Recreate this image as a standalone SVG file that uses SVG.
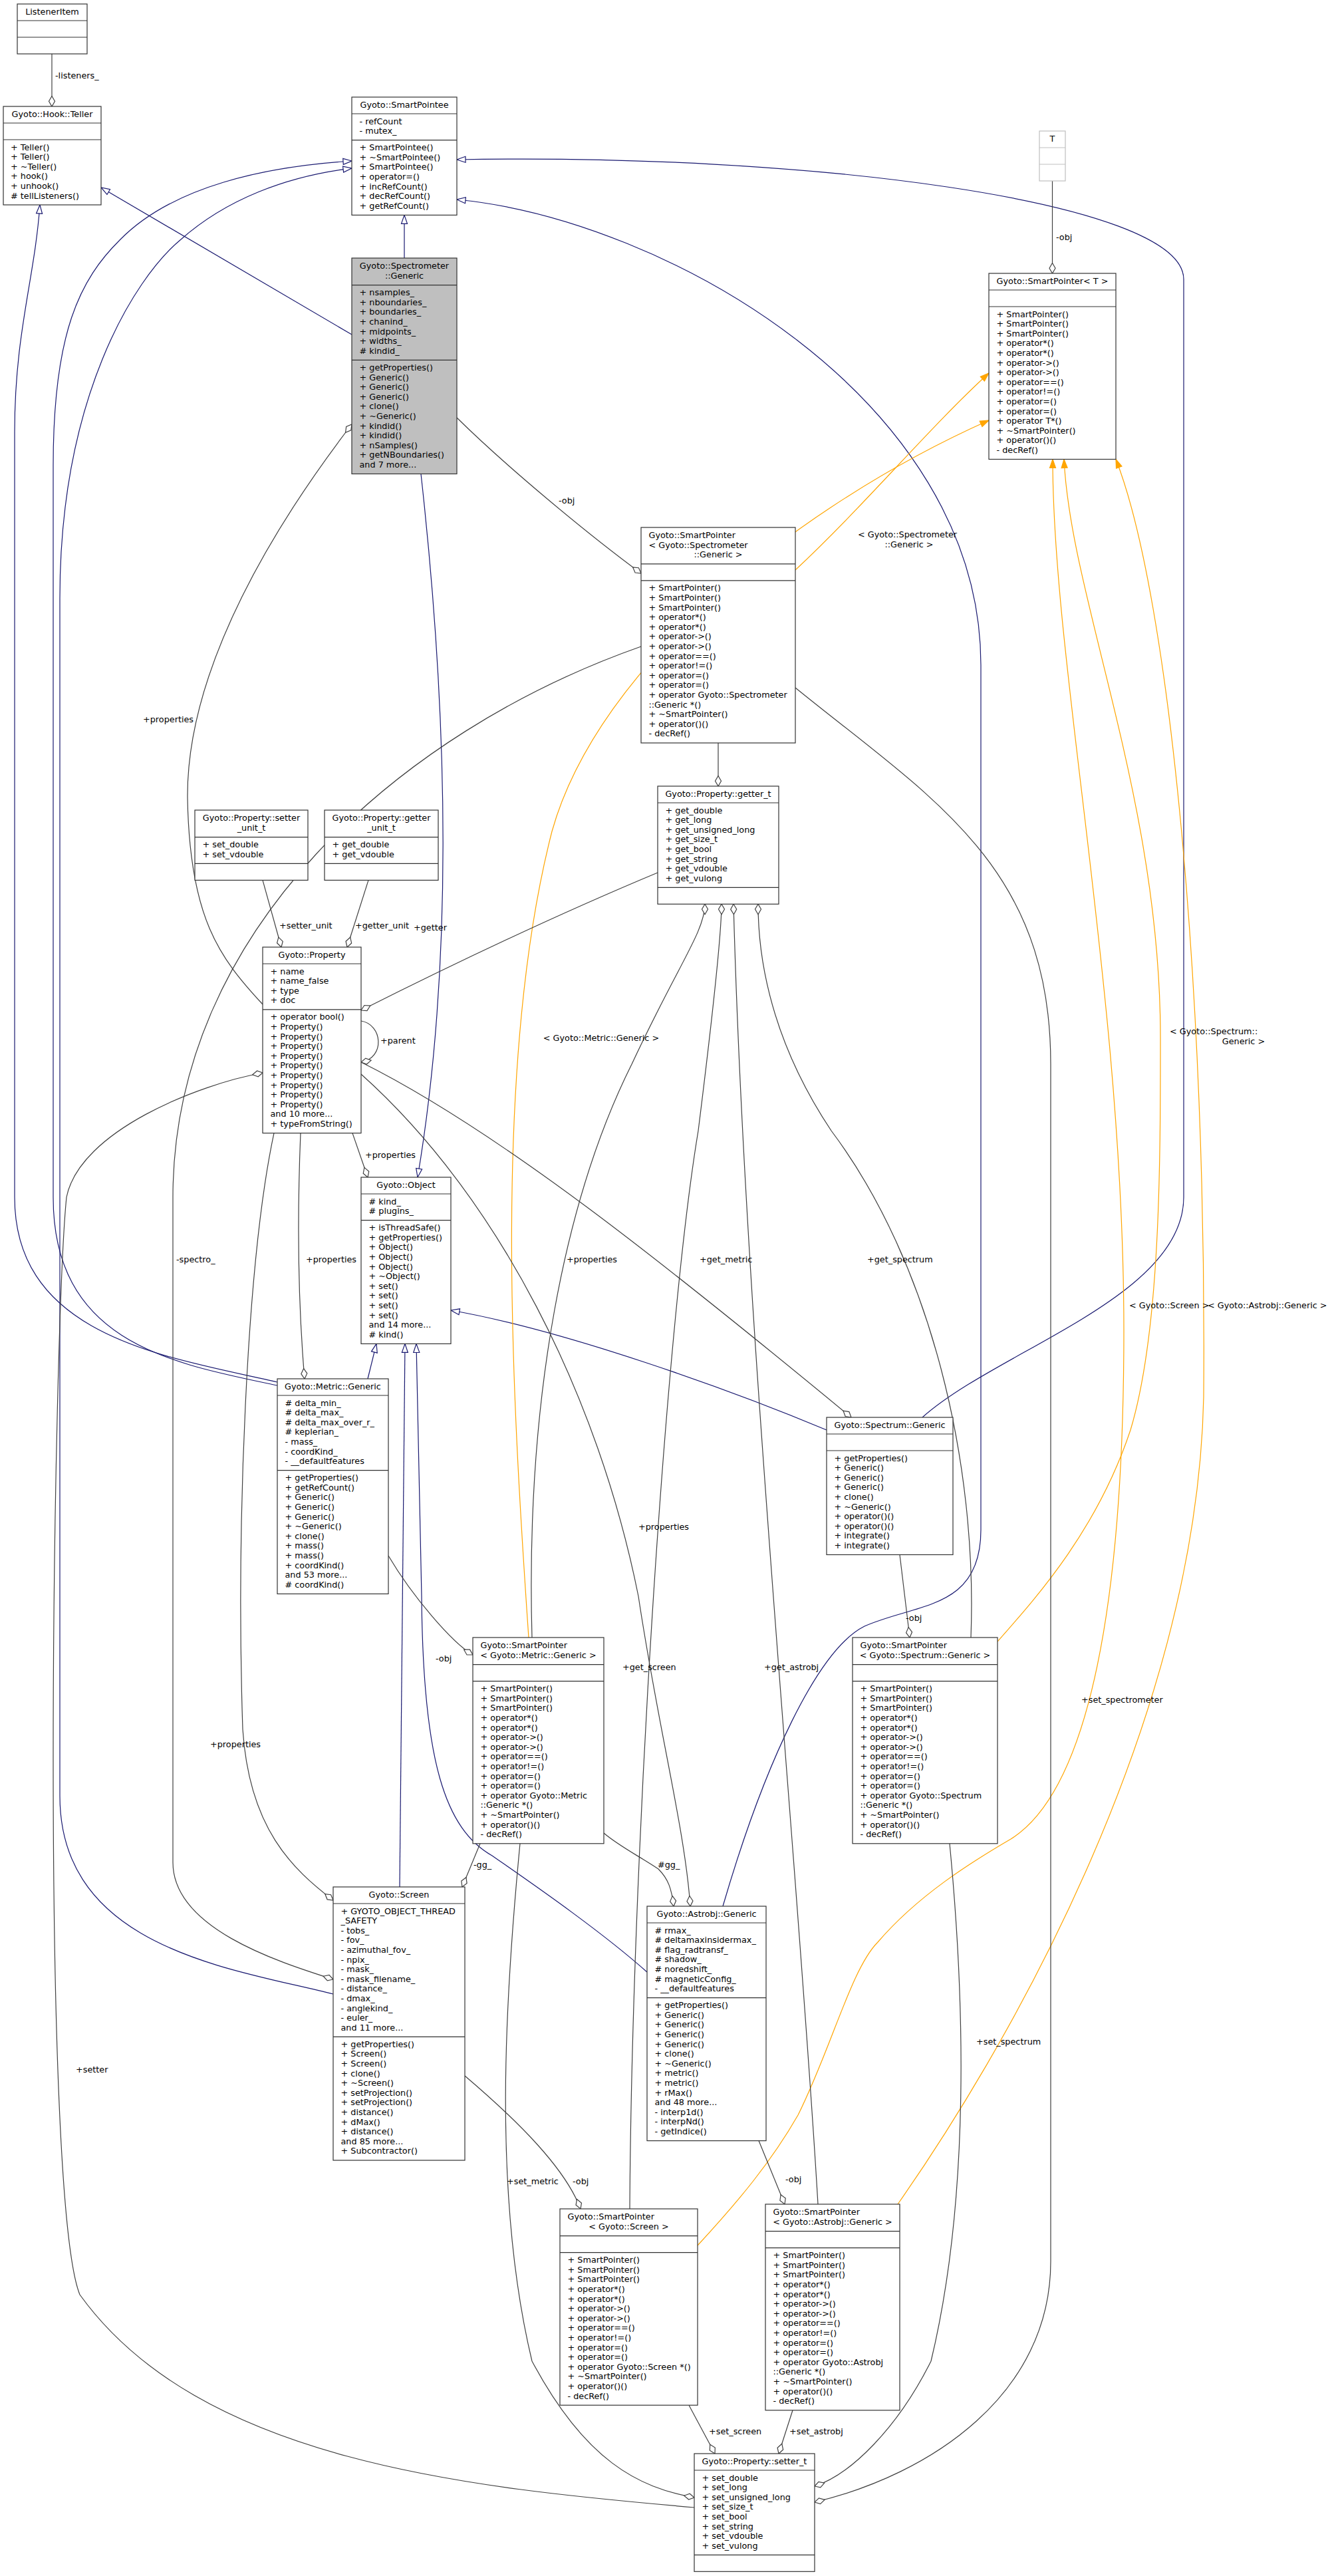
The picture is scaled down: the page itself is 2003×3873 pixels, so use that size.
<svg xmlns="http://www.w3.org/2000/svg" width="2003" height="3873" viewBox="0 0 2003 3873">
<style>
text{font-family:"DejaVu Sans","Liberation Sans",sans-serif;font-size:12.8px;fill:#000}
.c{text-anchor:middle}
.b{fill:#fff;stroke:#333;stroke-width:1.2}
.g{fill:#bfbfbf;stroke:#333;stroke-width:1.2}
.u{fill:#fff;stroke:#bfbfbf;stroke-width:1.2}
.s{stroke:#333;stroke-width:1.2}
.su{stroke:#bfbfbf;stroke-width:1.2}
.inh{fill:none;stroke:#191970;stroke-width:1.2;marker-end:url(#mInh)}
.agg{fill:none;stroke:#404040;stroke-width:1.2;marker-end:url(#mDia)}
.tpl{fill:none;stroke:#ffa500;stroke-width:1.2;marker-end:url(#mTpl)}
</style>
<defs>
<marker id="mInh" markerWidth="16" markerHeight="12" refX="14" refY="6" orient="auto" markerUnits="userSpaceOnUse"><path d="M1,1.5 L14,6 L1,10.5 Z" fill="#fff" stroke="#191970" stroke-width="1.2"/></marker>
<marker id="mTpl" markerWidth="16" markerHeight="12" refX="14" refY="6" orient="auto" markerUnits="userSpaceOnUse"><path d="M1,1.5 L14,6 L1,10.5 Z" fill="#ffa500" stroke="#ffa500" stroke-width="1.2"/></marker>
<marker id="mDia" markerWidth="18" markerHeight="12" refX="16.5" refY="6" orient="auto" markerUnits="userSpaceOnUse"><path d="M1,6 L8.75,1.5 L16.5,6 L8.75,10.5 Z" fill="#fff" stroke="#404040" stroke-width="1.2"/></marker>
</defs>

<g id="edges">
<path class="inh" d="M608,388 L608,323.4"/>
<path class="inh" d="M529,503 L152,282"/>
<path class="inh" d="M633,712.5 C665,1000 690,1400 628,1770"/>
<path class="inh" d="M553,2073 L566,2020.4"/>
<path class="inh" d="M417,2078 C250,2040 22,2010 22,1800 L22,650 C22,500 52,420 60,308"/>
<path class="inh" d="M417,2083 C260,2050 80,2020 80,1800 L80,700 C80,500 120,420 181,360 C260,280 400,250 529,242"/>
<path class="inh" d="M501,2998 C350,2960 90,2930 90,2700 L90,900 C90,600 200,420 272,360 C340,300 430,265 529,253"/>
<path class="inh" d="M601,2837 L609,2020.4"/>
<path class="inh" d="M1387,2131 C1500,2030 1780,1950 1780,1800 L1780,420 C1780,300 1200,230 687,240"/>
<path class="inh" d="M1243,2150 C1100,2090 850,2000 678,1970"/>
<path class="inh" d="M1087,2866 C1150,2650 1230,2480 1300,2445 C1380,2410 1475,2420 1475,2300 L1475,1000 C1475,600 1000,330 687,300"/>
<path class="inh" d="M973,2965 C900,2900 790,2825 740,2790 C670,2750 636,2650 634,2400 L626,2020.4"/>

<path class="tpl" d="M1196,857 C1300,760 1400,640 1487,561"/>
<path class="tpl" d="M795,2462 C770,2100 740,1600 830,1250 C900,1000 1200,760 1487,632"/>
<path class="tpl" d="M1500,2468 C1560,2400 1650,2300 1700,2150 C1745,2000 1745,1750 1745,1560 C1745,1200 1610,900 1600,690.5"/>
<path class="tpl" d="M1049,3376 C1110,3310 1160,3250 1200,3180 C1250,3080 1280,2960 1320,2920 C1380,2850 1460,2800 1520,2765 C1640,2690 1690,2400 1690,2000 C1690,1500 1583,1000 1583,690.5"/>
<path class="tpl" d="M1350,3314 C1500,3100 1800,2600 1810,2100 C1815,1500 1760,900 1678,690.5"/>

<path class="agg" d="M78,81 L78,160"/>
<path class="agg" d="M1582.5,272 L1582.5,411"/>
<path class="agg" d="M687,628 C760,700 880,800 964,862"/>
<path class="agg" d="M395,1510 C330,1440 285,1380 282,1200 C280,1000 420,780 529,638"/>
<path class="agg" d="M543,1535 C575,1540 580,1590 543,1597"/>
<path class="agg" d="M395,1323.4 L423,1424"/>
<path class="agg" d="M554,1323.4 L522,1424"/>
<path class="agg" d="M989,1312 C850,1370 700,1440 543,1519"/>
<path class="agg" d="M530,1703.6 L553,1770"/>
<path class="agg" d="M452,1703.6 C446,1850 450,1980 458,2073"/>
<path class="agg" d="M412,1703.6 C370,1900 355,2300 365,2600 C375,2750 440,2810 501,2857"/>
<path class="agg" d="M543,1597 C750,1700 1000,1900 1280,2131"/>
<path class="agg" d="M543,1615 C750,1800 900,2100 960,2400 C990,2600 1030,2750 1038,2866"/>
<path class="agg" d="M1080,1117 L1080,1182"/>
<path class="agg" d="M1196,1034 C1400,1200 1580,1300 1580,1600 L1580,3400 C1580,3600 1400,3720 1225,3762"/>
<path class="agg" d="M964,972 C600,1100 260,1400 260,1800 L260,2800 C260,2900 420,2950 501,2976"/>
<path class="agg" d="M584,2339 C620,2400 680,2470 711,2488"/>
<path class="agg" d="M1353,2337.5 L1368,2462"/>
<path class="agg" d="M699,3121 C780,3190 850,3260 873,3321"/>
<path class="agg" d="M1141,3218.6 L1180,3314"/>
<path class="agg" d="M800,2462 C790,2100 850,1800 950,1600 C1020,1450 1060,1400 1060,1359.3"/>
<path class="agg" d="M1460,2462 C1470,2200 1400,1900 1250,1700 C1150,1550 1140,1420 1140,1359.3"/>
<path class="agg" d="M947,3321 C950,2800 1000,2000 1050,1700 C1075,1500 1085,1400 1085,1359.3"/>
<path class="agg" d="M1230,3314 C1200,2800 1120,2000 1103,1359.3"/>
<path class="agg" d="M782,2771.8 C760,3000 740,3300 800,3550 C880,3700 960,3740 1044,3755"/>
<path class="agg" d="M1428,2771.8 C1450,3000 1460,3300 1400,3550 C1350,3650 1280,3720 1225,3738"/>
<path class="agg" d="M1036,3616.2 L1075,3689"/>
<path class="agg" d="M1192,3623.8 L1171,3689"/>
<path class="agg" d="M1044,3770 C700,3740 300,3700 120,3450 C60,3300 80,2000 100,1800 C120,1700 300,1630 395,1613"/>
<path class="agg" d="M722,2771.8 L695,2837"/>
<path class="agg" d="M908,2756 C930,2775 960,2790 990,2810 C1005,2825 1010,2840 1013,2866"/>

<text x="83" y="117.5">-listeners_</text>
<text x="1588" y="361">-obj</text>
<text x="840" y="757">-obj</text>
<text x="1290" y="808">&lt; Gyoto::Spectrometer</text>
<text class="c" x="1367" y="822.6">::Generic &gt;</text>
<text x="215" y="1086">+properties</text>
<text x="420" y="1396">+setter_unit</text>
<text x="534" y="1396">+getter_unit</text>
<text x="622" y="1399">+getter</text>
<text x="572" y="1569">+parent</text>
<text class="c" x="904" y="1565">&lt; Gyoto::Metric::Generic &gt;</text>
<text x="1759" y="1555">&lt; Gyoto::Spectrum::</text>
<text class="c" x="1870" y="1570">Generic &gt;</text>
<text x="549" y="1741">+properties</text>
<text x="265" y="1898">-spectro_</text>
<text x="460" y="1898">+properties</text>
<text x="852" y="1898">+properties</text>
<text x="1052" y="1898">+get_metric</text>
<text x="1304" y="1898">+get_spectrum</text>
<text x="1698" y="1967">&lt; Gyoto::Screen &gt;</text>
<text x="1816" y="1967">&lt; Gyoto::Astrobj::Generic &gt;</text>
<text x="1362" y="2437">-obj</text>
<text x="655" y="2498">-obj</text>
<text x="316" y="2627">+properties</text>
<text x="960" y="2300">+properties</text>
<text x="936" y="2511">+get_screen</text>
<text x="1149" y="2511">+get_astrobj</text>
<text x="1626" y="2560">+set_spectrometer</text>
<text x="712" y="2808">-gg_</text>
<text x="989" y="2808">#gg_</text>
<text x="114" y="3116">+setter</text>
<text x="1468" y="3074">+set_spectrum</text>
<text x="762" y="3284">+set_metric</text>
<text x="861" y="3284">-obj</text>
<text x="1181" y="3281">-obj</text>
<text x="1066" y="3660">+set_screen</text>
<text x="1187" y="3660">+set_astrobj</text>
</g>

<g id="ListenerItem">
<rect class="b" x="26" y="6" width="105" height="75"/>
<path class="s" d="M26,31 H131 M26,56 H131"/>
<text class="c" x="78.5" y="22">ListenerItem</text>
</g>

<g id="Teller">
<rect class="b" x="5" y="160" width="147" height="148"/>
<path class="s" d="M5,185 H152 M5,210 H152"/>
<text class="c" x="78.5" y="176">Gyoto::Hook::Teller</text>
<text x="16" y="225.5"><tspan x="16">+ Teller()</tspan><tspan x="16" dy="14.6">+ Teller()</tspan><tspan x="16" dy="14.6">+ ~Teller()</tspan><tspan x="16" dy="14.6">+ hook()</tspan><tspan x="16" dy="14.6">+ unhook()</tspan><tspan x="16" dy="14.6"># tellListeners()</tspan></text>
</g>

<g id="SmartPointee">
<rect class="b" x="529" y="146" width="158" height="177.4"/>
<path class="s" d="M529,171 H687 M529,210.7 H687"/>
<text class="c" x="608" y="162">Gyoto::SmartPointee</text>
<text x="540.5" y="186.5"><tspan x="540.5">- refCount</tspan><tspan x="540.5" dy="14.6">- mutex_</tspan></text>
<text x="540.5" y="226.2"><tspan x="540.5">+ SmartPointee()</tspan><tspan x="540.5" dy="14.6">+ ~SmartPointee()</tspan><tspan x="540.5" dy="14.6">+ SmartPointee()</tspan><tspan x="540.5" dy="14.6">+ operator=()</tspan><tspan x="540.5" dy="14.6">+ incRefCount()</tspan><tspan x="540.5" dy="14.6">+ decRefCount()</tspan><tspan x="540.5" dy="14.6">+ getRefCount()</tspan></text>
</g>

<g id="SpectrometerGeneric">
<rect class="g" x="529" y="388" width="158" height="324.5"/>
<path class="s" d="M529,428.7 H687 M529,541.4 H687"/>
<text class="c" x="608" y="404">Gyoto::Spectrometer</text>
<text class="c" x="608" y="418.6">::Generic</text>
<text x="540.5" y="444.2"><tspan x="540.5">+ nsamples_</tspan><tspan x="540.5" dy="14.6">+ nboundaries_</tspan><tspan x="540.5" dy="14.6">+ boundaries_</tspan><tspan x="540.5" dy="14.6">+ chanind_</tspan><tspan x="540.5" dy="14.6">+ midpoints_</tspan><tspan x="540.5" dy="14.6">+ widths_</tspan><tspan x="540.5" dy="14.6"># kindid_</tspan></text>
<text x="540.5" y="556.9"><tspan x="540.5">+ getProperties()</tspan><tspan x="540.5" dy="14.6">+ Generic()</tspan><tspan x="540.5" dy="14.6">+ Generic()</tspan><tspan x="540.5" dy="14.6">+ Generic()</tspan><tspan x="540.5" dy="14.6">+ clone()</tspan><tspan x="540.5" dy="14.6">+ ~Generic()</tspan><tspan x="540.5" dy="14.6">+ kindid()</tspan><tspan x="540.5" dy="14.6">+ kindid()</tspan><tspan x="540.5" dy="14.6">+ nSamples()</tspan><tspan x="540.5" dy="14.6">+ getNBoundaries()</tspan><tspan x="540.5" dy="14.6">and 7 more...</tspan></text>
</g>

<g id="T">
<rect class="u" x="1563" y="197" width="39" height="75"/>
<path class="su" d="M1563,222 H1602 M1563,247 H1602"/>
<text class="c" x="1582.5" y="213">T</text>
</g>

<g id="SmartPointerT">
<rect class="b" x="1487" y="411" width="191" height="279.5"/>
<path class="s" d="M1487,436 H1678 M1487,461 H1678"/>
<text class="c" x="1582.5" y="427">Gyoto::SmartPointer&lt; T &gt;</text>
<text x="1498.5" y="476.5"><tspan x="1498.5">+ SmartPointer()</tspan><tspan x="1498.5" dy="14.6">+ SmartPointer()</tspan><tspan x="1498.5" dy="14.6">+ SmartPointer()</tspan><tspan x="1498.5" dy="14.6">+ operator*()</tspan><tspan x="1498.5" dy="14.6">+ operator*()</tspan><tspan x="1498.5" dy="14.6">+ operator-&gt;()</tspan><tspan x="1498.5" dy="14.6">+ operator-&gt;()</tspan><tspan x="1498.5" dy="14.6">+ operator==()</tspan><tspan x="1498.5" dy="14.6">+ operator!=()</tspan><tspan x="1498.5" dy="14.6">+ operator=()</tspan><tspan x="1498.5" dy="14.6">+ operator=()</tspan><tspan x="1498.5" dy="14.6">+ operator T*()</tspan><tspan x="1498.5" dy="14.6">+ ~SmartPointer()</tspan><tspan x="1498.5" dy="14.6">+ operator()()</tspan><tspan x="1498.5" dy="14.6">- decRef()</tspan></text>
</g>

<g id="SmartPointerSpectrometer">
<rect class="b" x="964" y="793" width="232" height="324"/>
<path class="s" d="M964,847.8 H1196 M964,872.8 H1196"/>
<text x="975.5" y="809">Gyoto::SmartPointer</text>
<text x="975.5" y="823.6">&lt; Gyoto::Spectrometer</text>
<text class="c" x="1080" y="838.2">::Generic &gt;</text>
<text x="975.5" y="888.3"><tspan x="975.5">+ SmartPointer()</tspan><tspan x="975.5" dy="14.6">+ SmartPointer()</tspan><tspan x="975.5" dy="14.6">+ SmartPointer()</tspan><tspan x="975.5" dy="14.6">+ operator*()</tspan><tspan x="975.5" dy="14.6">+ operator*()</tspan><tspan x="975.5" dy="14.6">+ operator-&gt;()</tspan><tspan x="975.5" dy="14.6">+ operator-&gt;()</tspan><tspan x="975.5" dy="14.6">+ operator==()</tspan><tspan x="975.5" dy="14.6">+ operator!=()</tspan><tspan x="975.5" dy="14.6">+ operator=()</tspan><tspan x="975.5" dy="14.6">+ operator=()</tspan><tspan x="975.5" dy="14.6">+ operator Gyoto::Spectrometer</tspan><tspan x="975.5" dy="14.6">::Generic *()</tspan><tspan x="975.5" dy="14.6">+ ~SmartPointer()</tspan><tspan x="975.5" dy="14.6">+ operator()()</tspan><tspan x="975.5" dy="14.6">- decRef()</tspan></text>
</g>

<g id="getter_t">
<rect class="b" x="989" y="1182" width="182" height="177.3"/>
<path class="s" d="M989,1207 H1171 M989,1334.3 H1171"/>
<text class="c" x="1080" y="1198">Gyoto::Property::getter_t</text>
<text x="1000.5" y="1222.5"><tspan x="1000.5">+ get_double</tspan><tspan x="1000.5" dy="14.6">+ get_long</tspan><tspan x="1000.5" dy="14.6">+ get_unsigned_long</tspan><tspan x="1000.5" dy="14.6">+ get_size_t</tspan><tspan x="1000.5" dy="14.6">+ get_bool</tspan><tspan x="1000.5" dy="14.6">+ get_string</tspan><tspan x="1000.5" dy="14.6">+ get_vdouble</tspan><tspan x="1000.5" dy="14.6">+ get_vulong</tspan></text>
</g>

<g id="setter_unit_t">
<rect class="b" x="293" y="1218" width="170" height="105.4"/>
<path class="s" d="M293,1258.7 H463 M293,1298.4 H463"/>
<text class="c" x="378" y="1234">Gyoto::Property::setter</text>
<text class="c" x="378" y="1248.6">_unit_t</text>
<text x="304.5" y="1274.2"><tspan x="304.5">+ set_double</tspan><tspan x="304.5" dy="14.6">+ set_vdouble</tspan></text>
</g>

<g id="getter_unit_t">
<rect class="b" x="488" y="1218" width="171" height="105.4"/>
<path class="s" d="M488,1258.7 H659 M488,1298.4 H659"/>
<text class="c" x="573.5" y="1234">Gyoto::Property::getter</text>
<text class="c" x="573.5" y="1248.6">_unit_t</text>
<text x="499.5" y="1274.2"><tspan x="499.5">+ get_double</tspan><tspan x="499.5" dy="14.6">+ get_vdouble</tspan></text>
</g>

<g id="Property">
<rect class="b" x="395" y="1424" width="148" height="279.6"/>
<path class="s" d="M395,1449 H543 M395,1517.9 H543"/>
<text class="c" x="469" y="1440">Gyoto::Property</text>
<text x="406.5" y="1464.5"><tspan x="406.5">+ name</tspan><tspan x="406.5" dy="14.6">+ name_false</tspan><tspan x="406.5" dy="14.6">+ type</tspan><tspan x="406.5" dy="14.6">+ doc</tspan></text>
<text x="406.5" y="1533.4"><tspan x="406.5">+ operator bool()</tspan><tspan x="406.5" dy="14.6">+ Property()</tspan><tspan x="406.5" dy="14.6">+ Property()</tspan><tspan x="406.5" dy="14.6">+ Property()</tspan><tspan x="406.5" dy="14.6">+ Property()</tspan><tspan x="406.5" dy="14.6">+ Property()</tspan><tspan x="406.5" dy="14.6">+ Property()</tspan><tspan x="406.5" dy="14.6">+ Property()</tspan><tspan x="406.5" dy="14.6">+ Property()</tspan><tspan x="406.5" dy="14.6">+ Property()</tspan><tspan x="406.5" dy="14.6">and 10 more...</tspan><tspan x="406.5" dy="14.6">+ typeFromString()</tspan></text>
</g>

<g id="Object">
<rect class="b" x="543" y="1770" width="135" height="250.4"/>
<path class="s" d="M543,1795 H678 M543,1834.7 H678"/>
<text class="c" x="610.5" y="1786">Gyoto::Object</text>
<text x="554.5" y="1810.5"><tspan x="554.5"># kind_</tspan><tspan x="554.5" dy="14.6"># plugins_</tspan></text>
<text x="554.5" y="1850.2"><tspan x="554.5">+ isThreadSafe()</tspan><tspan x="554.5" dy="14.6">+ getProperties()</tspan><tspan x="554.5" dy="14.6">+ Object()</tspan><tspan x="554.5" dy="14.6">+ Object()</tspan><tspan x="554.5" dy="14.6">+ Object()</tspan><tspan x="554.5" dy="14.6">+ ~Object()</tspan><tspan x="554.5" dy="14.6">+ set()</tspan><tspan x="554.5" dy="14.6">+ set()</tspan><tspan x="554.5" dy="14.6">+ set()</tspan><tspan x="554.5" dy="14.6">+ set()</tspan><tspan x="554.5" dy="14.6">and 14 more...</tspan><tspan x="554.5" dy="14.6"># kind()</tspan></text>
</g>

<g id="MetricGeneric">
<rect class="b" x="417" y="2073" width="167" height="323.4"/>
<path class="s" d="M417,2098 H584 M417,2210.7 H584"/>
<text class="c" x="500.5" y="2089">Gyoto::Metric::Generic</text>
<text x="428.5" y="2113.5"><tspan x="428.5"># delta_min_</tspan><tspan x="428.5" dy="14.6"># delta_max_</tspan><tspan x="428.5" dy="14.6"># delta_max_over_r_</tspan><tspan x="428.5" dy="14.6"># keplerian_</tspan><tspan x="428.5" dy="14.6">- mass_</tspan><tspan x="428.5" dy="14.6">- coordKind_</tspan><tspan x="428.5" dy="14.6">- __defaultfeatures</tspan></text>
<text x="428.5" y="2226.2"><tspan x="428.5">+ getProperties()</tspan><tspan x="428.5" dy="14.6">+ getRefCount()</tspan><tspan x="428.5" dy="14.6">+ Generic()</tspan><tspan x="428.5" dy="14.6">+ Generic()</tspan><tspan x="428.5" dy="14.6">+ Generic()</tspan><tspan x="428.5" dy="14.6">+ ~Generic()</tspan><tspan x="428.5" dy="14.6">+ clone()</tspan><tspan x="428.5" dy="14.6">+ mass()</tspan><tspan x="428.5" dy="14.6">+ mass()</tspan><tspan x="428.5" dy="14.6">+ coordKind()</tspan><tspan x="428.5" dy="14.6">and 53 more...</tspan><tspan x="428.5" dy="14.6"># coordKind()</tspan></text>
</g>

<g id="SpectrumGeneric">
<rect class="b" x="1243" y="2131" width="190" height="206.5"/>
<path class="s" d="M1243,2156 H1433 M1243,2181 H1433"/>
<text class="c" x="1338" y="2147">Gyoto::Spectrum::Generic</text>
<text x="1254.5" y="2196.5"><tspan x="1254.5">+ getProperties()</tspan><tspan x="1254.5" dy="14.6">+ Generic()</tspan><tspan x="1254.5" dy="14.6">+ Generic()</tspan><tspan x="1254.5" dy="14.6">+ Generic()</tspan><tspan x="1254.5" dy="14.6">+ clone()</tspan><tspan x="1254.5" dy="14.6">+ ~Generic()</tspan><tspan x="1254.5" dy="14.6">+ operator()()</tspan><tspan x="1254.5" dy="14.6">+ operator()()</tspan><tspan x="1254.5" dy="14.6">+ integrate()</tspan><tspan x="1254.5" dy="14.6">+ integrate()</tspan></text>
</g>

<g id="SmartPointerMetric">
<rect class="b" x="711" y="2462" width="197" height="309.8"/>
<path class="s" d="M711,2502.7 H908 M711,2527.7 H908"/>
<text x="722.5" y="2478">Gyoto::SmartPointer</text>
<text class="c" x="809.5" y="2492.6">&lt; Gyoto::Metric::Generic &gt;</text>
<text x="722.5" y="2543.2"><tspan x="722.5">+ SmartPointer()</tspan><tspan x="722.5" dy="14.6">+ SmartPointer()</tspan><tspan x="722.5" dy="14.6">+ SmartPointer()</tspan><tspan x="722.5" dy="14.6">+ operator*()</tspan><tspan x="722.5" dy="14.6">+ operator*()</tspan><tspan x="722.5" dy="14.6">+ operator-&gt;()</tspan><tspan x="722.5" dy="14.6">+ operator-&gt;()</tspan><tspan x="722.5" dy="14.6">+ operator==()</tspan><tspan x="722.5" dy="14.6">+ operator!=()</tspan><tspan x="722.5" dy="14.6">+ operator=()</tspan><tspan x="722.5" dy="14.6">+ operator=()</tspan><tspan x="722.5" dy="14.6">+ operator Gyoto::Metric</tspan><tspan x="722.5" dy="14.6">::Generic *()</tspan><tspan x="722.5" dy="14.6">+ ~SmartPointer()</tspan><tspan x="722.5" dy="14.6">+ operator()()</tspan><tspan x="722.5" dy="14.6">- decRef()</tspan></text>
</g>

<g id="SmartPointerSpectrum">
<rect class="b" x="1282" y="2462" width="218" height="309.8"/>
<path class="s" d="M1282,2502.7 H1500 M1282,2527.7 H1500"/>
<text x="1293.5" y="2478">Gyoto::SmartPointer</text>
<text class="c" x="1391" y="2492.6">&lt; Gyoto::Spectrum::Generic &gt;</text>
<text x="1293.5" y="2543.2"><tspan x="1293.5">+ SmartPointer()</tspan><tspan x="1293.5" dy="14.6">+ SmartPointer()</tspan><tspan x="1293.5" dy="14.6">+ SmartPointer()</tspan><tspan x="1293.5" dy="14.6">+ operator*()</tspan><tspan x="1293.5" dy="14.6">+ operator*()</tspan><tspan x="1293.5" dy="14.6">+ operator-&gt;()</tspan><tspan x="1293.5" dy="14.6">+ operator-&gt;()</tspan><tspan x="1293.5" dy="14.6">+ operator==()</tspan><tspan x="1293.5" dy="14.6">+ operator!=()</tspan><tspan x="1293.5" dy="14.6">+ operator=()</tspan><tspan x="1293.5" dy="14.6">+ operator=()</tspan><tspan x="1293.5" dy="14.6">+ operator Gyoto::Spectrum</tspan><tspan x="1293.5" dy="14.6">::Generic *()</tspan><tspan x="1293.5" dy="14.6">+ ~SmartPointer()</tspan><tspan x="1293.5" dy="14.6">+ operator()()</tspan><tspan x="1293.5" dy="14.6">- decRef()</tspan></text>
</g>

<g id="Screen">
<rect class="b" x="501" y="2837" width="198" height="411"/>
<path class="s" d="M501,2862 H699 M501,3062.3 H699"/>
<text class="c" x="600" y="2853">Gyoto::Screen</text>
<text x="512.5" y="2877.5"><tspan x="512.5">+ GYOTO_OBJECT_THREAD</tspan><tspan x="512.5" dy="14.6">_SAFETY</tspan><tspan x="512.5" dy="14.6">- tobs_</tspan><tspan x="512.5" dy="14.6">- fov_</tspan><tspan x="512.5" dy="14.6">- azimuthal_fov_</tspan><tspan x="512.5" dy="14.6">- npix_</tspan><tspan x="512.5" dy="14.6">- mask_</tspan><tspan x="512.5" dy="14.6">- mask_filename_</tspan><tspan x="512.5" dy="14.6">- distance_</tspan><tspan x="512.5" dy="14.6">- dmax_</tspan><tspan x="512.5" dy="14.6">- anglekind_</tspan><tspan x="512.5" dy="14.6">- euler_</tspan><tspan x="512.5" dy="14.6">and 11 more...</tspan></text>
<text x="512.5" y="3077.8"><tspan x="512.5">+ getProperties()</tspan><tspan x="512.5" dy="14.6">+ Screen()</tspan><tspan x="512.5" dy="14.6">+ Screen()</tspan><tspan x="512.5" dy="14.6">+ clone()</tspan><tspan x="512.5" dy="14.6">+ ~Screen()</tspan><tspan x="512.5" dy="14.6">+ setProjection()</tspan><tspan x="512.5" dy="14.6">+ setProjection()</tspan><tspan x="512.5" dy="14.6">+ distance()</tspan><tspan x="512.5" dy="14.6">+ dMax()</tspan><tspan x="512.5" dy="14.6">+ distance()</tspan><tspan x="512.5" dy="14.6">and 85 more...</tspan><tspan x="512.5" dy="14.6">+ Subcontractor()</tspan></text>
</g>

<g id="AstrobjGeneric">
<rect class="b" x="973" y="2866" width="179" height="352.6"/>
<path class="s" d="M973,2891 H1152 M973,3003.7 H1152"/>
<text class="c" x="1062.5" y="2882">Gyoto::Astrobj::Generic</text>
<text x="984.5" y="2906.5"><tspan x="984.5"># rmax_</tspan><tspan x="984.5" dy="14.6"># deltamaxinsidermax_</tspan><tspan x="984.5" dy="14.6"># flag_radtransf_</tspan><tspan x="984.5" dy="14.6"># shadow_</tspan><tspan x="984.5" dy="14.6"># noredshift_</tspan><tspan x="984.5" dy="14.6"># magneticConfig_</tspan><tspan x="984.5" dy="14.6">- __defaultfeatures</tspan></text>
<text x="984.5" y="3019.2"><tspan x="984.5">+ getProperties()</tspan><tspan x="984.5" dy="14.6">+ Generic()</tspan><tspan x="984.5" dy="14.6">+ Generic()</tspan><tspan x="984.5" dy="14.6">+ Generic()</tspan><tspan x="984.5" dy="14.6">+ Generic()</tspan><tspan x="984.5" dy="14.6">+ clone()</tspan><tspan x="984.5" dy="14.6">+ ~Generic()</tspan><tspan x="984.5" dy="14.6">+ metric()</tspan><tspan x="984.5" dy="14.6">+ metric()</tspan><tspan x="984.5" dy="14.6">+ rMax()</tspan><tspan x="984.5" dy="14.6">and 48 more...</tspan><tspan x="984.5" dy="14.6">- interp1d()</tspan><tspan x="984.5" dy="14.6">- interpNd()</tspan><tspan x="984.5" dy="14.6">- getIndice()</tspan></text>
</g>

<g id="SmartPointerScreen">
<rect class="b" x="842" y="3321" width="207" height="295.2"/>
<path class="s" d="M842,3361.7 H1049 M842,3386.7 H1049"/>
<text x="853.5" y="3337">Gyoto::SmartPointer</text>
<text class="c" x="945.5" y="3351.6">&lt; Gyoto::Screen &gt;</text>
<text x="853.5" y="3402.2"><tspan x="853.5">+ SmartPointer()</tspan><tspan x="853.5" dy="14.6">+ SmartPointer()</tspan><tspan x="853.5" dy="14.6">+ SmartPointer()</tspan><tspan x="853.5" dy="14.6">+ operator*()</tspan><tspan x="853.5" dy="14.6">+ operator*()</tspan><tspan x="853.5" dy="14.6">+ operator-&gt;()</tspan><tspan x="853.5" dy="14.6">+ operator-&gt;()</tspan><tspan x="853.5" dy="14.6">+ operator==()</tspan><tspan x="853.5" dy="14.6">+ operator!=()</tspan><tspan x="853.5" dy="14.6">+ operator=()</tspan><tspan x="853.5" dy="14.6">+ operator=()</tspan><tspan x="853.5" dy="14.6">+ operator Gyoto::Screen *()</tspan><tspan x="853.5" dy="14.6">+ ~SmartPointer()</tspan><tspan x="853.5" dy="14.6">+ operator()()</tspan><tspan x="853.5" dy="14.6">- decRef()</tspan></text>
</g>

<g id="SmartPointerAstrobj">
<rect class="b" x="1151" y="3314" width="202" height="309.8"/>
<path class="s" d="M1151,3354.7 H1353 M1151,3379.7 H1353"/>
<text x="1162.5" y="3330">Gyoto::SmartPointer</text>
<text class="c" x="1252" y="3344.6">&lt; Gyoto::Astrobj::Generic &gt;</text>
<text x="1162.5" y="3395.2"><tspan x="1162.5">+ SmartPointer()</tspan><tspan x="1162.5" dy="14.6">+ SmartPointer()</tspan><tspan x="1162.5" dy="14.6">+ SmartPointer()</tspan><tspan x="1162.5" dy="14.6">+ operator*()</tspan><tspan x="1162.5" dy="14.6">+ operator*()</tspan><tspan x="1162.5" dy="14.6">+ operator-&gt;()</tspan><tspan x="1162.5" dy="14.6">+ operator-&gt;()</tspan><tspan x="1162.5" dy="14.6">+ operator==()</tspan><tspan x="1162.5" dy="14.6">+ operator!=()</tspan><tspan x="1162.5" dy="14.6">+ operator=()</tspan><tspan x="1162.5" dy="14.6">+ operator=()</tspan><tspan x="1162.5" dy="14.6">+ operator Gyoto::Astrobj</tspan><tspan x="1162.5" dy="14.6">::Generic *()</tspan><tspan x="1162.5" dy="14.6">+ ~SmartPointer()</tspan><tspan x="1162.5" dy="14.6">+ operator()()</tspan><tspan x="1162.5" dy="14.6">- decRef()</tspan></text>
</g>

<g id="setter_t">
<rect class="b" x="1044" y="3689" width="181" height="177.3"/>
<path class="s" d="M1044,3714 H1225 M1044,3841.3 H1225"/>
<text class="c" x="1134.5" y="3705">Gyoto::Property::setter_t</text>
<text x="1055.5" y="3729.5"><tspan x="1055.5">+ set_double</tspan><tspan x="1055.5" dy="14.6">+ set_long</tspan><tspan x="1055.5" dy="14.6">+ set_unsigned_long</tspan><tspan x="1055.5" dy="14.6">+ set_size_t</tspan><tspan x="1055.5" dy="14.6">+ set_bool</tspan><tspan x="1055.5" dy="14.6">+ set_string</tspan><tspan x="1055.5" dy="14.6">+ set_vdouble</tspan><tspan x="1055.5" dy="14.6">+ set_vulong</tspan></text>
</g>
</svg>
